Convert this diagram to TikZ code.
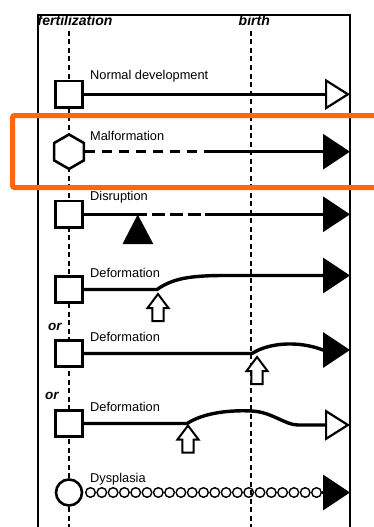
\documentclass[tikz,border=0pt]{standalone}
\usepackage{fontspec}
\setmainfont{Liberation Sans}
\usepackage{xcolor}
\usepackage{tikz}
\usetikzlibrary{shapes.geometric}
\usetikzlibrary{arrows.meta}
\definecolor{markorange}{RGB}{255,104,10}

\tikzset{push/.pic={\draw[line width=2pt, fill=white] (0,0) -- (10.5,14) -- (5.6,14) -- (5.6,27) -- (-5.6,27) -- (-5.6,14) -- (-10.5,14) -- cycle;}}

\begin{document}
\begin{tikzpicture}[x=1pt, y=-1pt,
  stage/.style={rectangle, draw, fill=white, line width=2.6pt, minimum size=26.5pt, inner sep=0pt},
  tag/.style={anchor=base west, inner sep=0pt, font=\fontsize{12.8}{14}\selectfont},
  head/.style={anchor=base west, inner sep=0pt, font=\fontsize{14}{16}\selectfont\bfseries\itshape},
  bead/.style={circle, draw, line width=1.4pt, minimum size=9.6pt, inner sep=0pt},
  flow/.style={line width=3.4pt},
  timeline/.style={line width=2.6pt, dash pattern=on 5pt off 3.5pt},
  openend/.style={-{Triangle[open, length=25pt, width=31pt, line width=2.2pt]}},
  fullend/.style={-{Triangle[length=27pt, width=35pt]}}]
			\useasboundingbox (0,0) rectangle (373,527);
			% Frame and time axis
			\draw[line width=1.2pt] (38,527) -- (38,15) -- (350,15) -- (350,527);
			\node[head] (fert) at (37.5,26) {fertilization};
			\node[head] (birth) at (238.5,26) {birth};
			\coordinate (ftop) at (69,31);
			\coordinate (fbot) at (69,527);
			\coordinate (btop) at (251,31);
			\coordinate (bbot) at (251,527);
			\draw[timeline] (ftop) -- (fbot);
			\draw[timeline] (btop) -- (bbot);
			% Nodes
			\node[stage] (n1) at (69,94.3) {};
			\node[stage, regular polygon, regular polygon sides=6, shape border rotate=90, minimum size=34.5pt] (n2) at (69,151.7) {};
			\node[stage] (n3) at (69,214.3) {};
			\node[stage] (n4) at (69,289.5) {};
			\node[stage] (n5) at (69,353.5) {};
			\node[stage] (n6) at (69,423.5) {};
			\node[stage, circle, minimum size=26pt] (n7) at (69,492.5) {};
			\foreach \i in {0,...,20}
				\node[bead] (b\i) at ({90.5+11.3*\i},492.5) {};
			% Labels
			\node[tag] (t1) at (90,79.5) {Normal development};
			\node[tag] (t2) at (90,140) {Malformation};
			\node[tag] (t3) at (90,200.7) {Disruption};
			\node[tag] (t4) at (90,277.3) {Deformation};
			\node[tag] (t5) at (90,341) {Deformation};
			\node[tag] (t6) at (90,411) {Deformation};
			\node[tag] (t7) at (90,482.3) {Dysplasia};
			\node[head, font=\fontsize{13.5}{16}\selectfont\bfseries\itshape] (or1) at (48,330.7) {or};
			\node[head, font=\fontsize{13.5}{16}\selectfont\bfseries\itshape] (or2) at (45,399) {or};
			% End points
			\coordinate (e1) at (350,94.3);
			\coordinate (e2) at (350,151.7);
			\coordinate (e3) at (350,214.3);
			\coordinate (e4) at (350,275.5);
			\coordinate (e5) at (350,350);
			\coordinate (e6) at (350,425);
			\coordinate (e7) at (350,492.5);
			% Edges
			\draw[flow, openend] (n1) -- (e1);
			\coordinate (m2) at (205,151.7);
			\draw[flow, dash pattern=on 10pt off 7pt] (n2) -- (m2);
			\draw[flow, fullend] (m2) -- (e2);
			\coordinate (d3a) at (134,214.3);
			\coordinate (d3b) at (205,214.3);
			\draw[flow] (n3) -- (d3a);
			\draw[flow, dash pattern=on 13pt off 5pt] (d3a) -- (d3b);
			\draw[flow, fullend] (d3b) -- (e3);
			\fill (137.7,214.5) -- (153.3,244) -- (122.5,244) -- cycle;
			\coordinate (k4) at (157,289.5);
			\draw[flow, fullend] (n4) -- (k4) .. controls (172,279) and (188,275.5) .. (225,275.5) -- (e4);
			\coordinate (k5) at (252,353.5);
			\draw[flow, fullend] (n5) -- (k5) .. controls (270,342) and (300,341) .. (323,350) -- (e5);
			\coordinate (k6) at (187,423.5);
			\draw[flow, openend] (n6) -- (k6) .. controls (205,412) and (232,410) .. (252,411) .. controls (272,412) and (285,425) .. (298,425) -- (e6);
			\draw[flow, fullend] (b20) -- (e7);
			% Pushes from outside
			\pic at (158,294) {push};
			\pic at (257,357) {push};
			\pic at (188,425.5) {push};
			% Highlight
			\draw[markorange, line width=5pt, rounded corners=2pt] (12.5,115.5) rectangle (390,187.5);
		\end{tikzpicture}
\end{document}
